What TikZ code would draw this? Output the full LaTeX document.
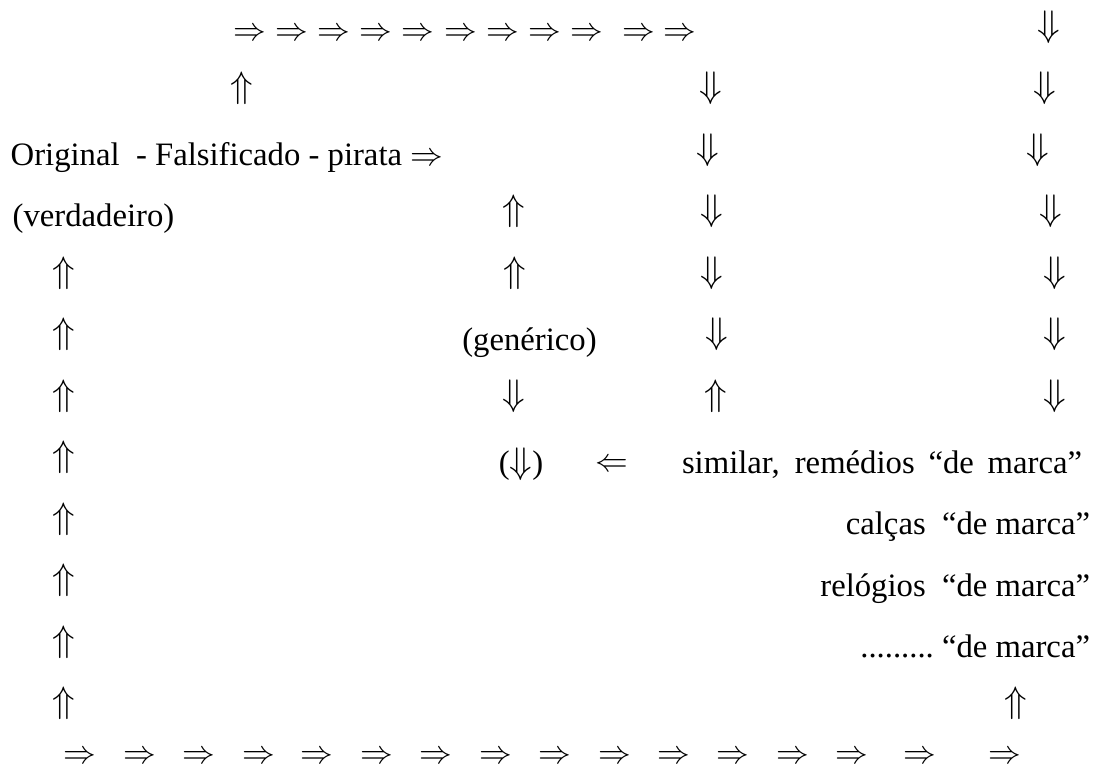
\RequirePackage{fix-cm}
\documentclass[tikz,border=0pt]{standalone}
\usepackage{fontspec}
\setmainfont{Liberation Serif}
\begin{document}
\begin{tikzpicture}[x=1pt,y=-1pt,
  every node/.style={inner sep=0pt,outer sep=0pt,font=\fontsize{32.7}{40}\selectfont},
  arr/.style={anchor=center},
  varr/.style={anchor=center,font=\fontsize{37}{40}\selectfont},
  lt/.style={anchor=base west},
  rt/.style={anchor=base east},
  ct/.style={anchor=base}]
\useasboundingbox (0,0) rectangle (1113,767);
% top row of right arrows
\foreach \x [count=\i] in {250,292,334,376,418,461,503,545,587,639,680}
  \node[arr] (top\i) at (\x,35) {$\Rightarrow$};
% far right column (down)
\foreach \x/\y [count=\i] in {1049/27,1045/88.5,1038/150,1051/211.5,1055/273,1055/334.5,1055/396}
  \node[varr] (rc\i) at (\x,\y) {$\Downarrow$};
% middle column (down) rows 2-6, up in row 7
\foreach \x/\y [count=\i] in {711/88.5,708/150,712/211.5,712/273,717/334.5}
  \node[varr] (mc\i) at (\x,\y) {$\Downarrow$};
\node[varr] (mcup) at (716,396) {$\Uparrow$};
% upper left up arrow
\node[varr] (ul) at (242,88.5) {$\Uparrow$};
% texts
\node[lt] (orig) at (10.7,165.5) {Original\ \ - Falsificado - pirata $\Rightarrow$};
\node[lt] (verd) at (12.7,227) {(verdadeiro)};
\node[varr] (g1) at (514,211.5) {$\Uparrow$};
\node[varr] (g2) at (515,273) {$\Uparrow$};
\node[ct] (gen) at (529.5,350) {(genérico)};
\node[varr] (g3) at (514,396) {$\Downarrow$};
\node[ct] (gdown) at (521,473) {({\fontsize{37}{40}\selectfont$\Downarrow$})};
\node[arr] (larr) at (612,465) {$\Leftarrow$};
\node[lt] (sim) at (682,473) {\makebox[400pt][s]{similar, remédios “de marca”}};
\node[rt] (calc) at (1090,534.5) {calças\ \ “de marca”};
\node[rt] (rel) at (1090,596) {relógios\ \ “de marca”};
\node[rt] (dots) at (1090,657.5) {.........\ “de marca”};
% left column (up)
\foreach \y [count=\i] in {273,334.5,396,457.5,519,580.5,642,703.5}
  \node[varr] (lc\i) at (64,\y) {$\Uparrow$};
\node[varr] (rup) at (1016,703.5) {$\Uparrow$};
% bottom row
\foreach \x [count=\i] in {80,140,199,259,317,377,436,496,555,615,674,733,793,852,920,1005}
  \node[arr] (bot\i) at (\x,757) {$\Rightarrow$};
\end{tikzpicture}
\end{document}
